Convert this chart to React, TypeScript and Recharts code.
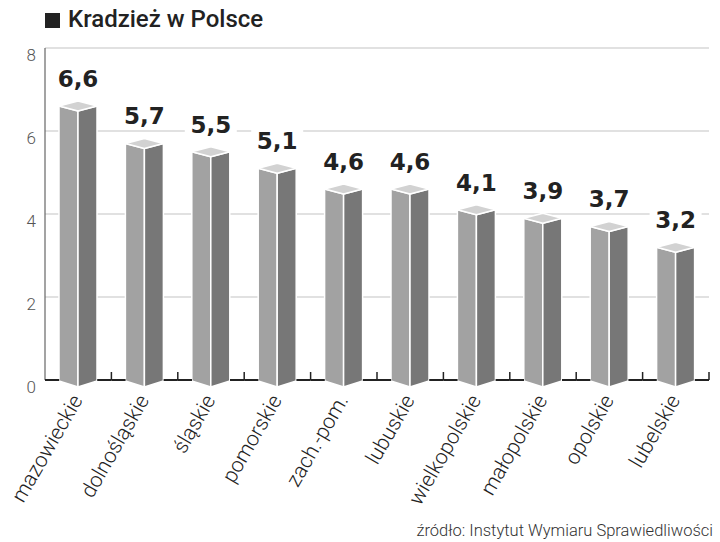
import { BarChart, Bar, XAxis, YAxis, CartesianGrid, LabelList } from "recharts";

const categories = [
  "mazowieckie",
  "dolnośląskie",
  "śląskie",
  "pomorskie",
  "zach.-pom.",
  "lubuskie",
  "wielkopolskie",
  "małopolskie",
  "opolskie",
  "lubelskie",
];
const values = [6.6, 5.7, 5.5, 5.1, 4.6, 4.6, 4.1, 3.9, 3.7, 3.2];
const yTicks = [0, 2, 4, 6, 8];

const data = categories.map((name, i) => ({ name, value: values[i] }));

const WIDTH = 720;
const HEIGHT = 542;
const LEFT = 45;
const RIGHT = 11;
const BAND = (WIDTH - LEFT - RIGHT) / categories.length;
const BAR = 38;
const DEPTH = 5;

const LIGHT = "Roboto, 'Noto Sans', sans-serif";

function Bar3D(props: any) {
  const { x, y, width, height } = props;
  if (width == null || height == null) return null;
  const cx = x + width / 2;
  const base = y + height;
  const r = x + width;
  return (
    <g stroke="#fff" strokeWidth={1.5} strokeLinejoin="round">
      <polygon
        points={`${x},${y} ${cx},${y + DEPTH} ${cx},${base + DEPTH + 2} ${x},${base + 1}`}
        fill="#a2a2a2"
      />
      <polygon
        points={`${cx},${y + DEPTH} ${r},${y} ${r},${base + 1} ${cx},${base + DEPTH + 2}`}
        fill="#777777"
      />
      <polygon
        points={`${x},${y} ${cx},${y - DEPTH} ${r},${y} ${cx},${y + DEPTH}`}
        fill="#d2d2d2"
      />
    </g>
  );
}

function ValueLabel(props: any) {
  const { x, y, width, value } = props;
  const cx = x + width / 2;
  const baseline = y - 19;
  return (
    <g>
      <rect x={cx - 26} y={baseline - 22} width={52} height={26} fill="#fff" />
      <text
        x={cx}
        y={baseline}
        textAnchor="middle"
        fontFamily="'DejaVu Sans', sans-serif"
        fontWeight={700}
        fontSize={23}
        fill="#222"
      >
        {String(value).replace(".", ",")}
      </text>
    </g>
  );
}

function CategoryTick(props: any) {
  const { x, y, payload } = props;
  const half = BAND / 2;
  const hb = BAR / 2;
  const ax = x + 5;
  const ay = y + 20;
  return (
    <g>
      <line x1={x - half} y1={y} x2={x - hb} y2={y} stroke="#222" strokeWidth={2} />
      <line x1={x + hb} y1={y} x2={x + half} y2={y} stroke="#222" strokeWidth={2} />
      <line x1={x + half} y1={y} x2={x + half} y2={y - 8} stroke="#222" strokeWidth={1.5} />
      <text
        x={ax}
        y={ay}
        textAnchor="end"
        transform={`rotate(-60, ${ax}, ${ay})`}
        fontFamily={LIGHT}
        fontWeight={300}
        fontSize={21}
        fill="#222"
      >
        {payload.value}
      </text>
    </g>
  );
}

function ValueTick(props: any) {
  const { x, y, payload } = props;
  return (
    <text
      x={x - 7}
      y={y + 7}
      dy="0.35em"
      textAnchor="end"
      fontFamily={LIGHT}
      fontWeight={300}
      fontSize={17}
      fill="#555"
    >
      {payload.value}
    </text>
  );
}

export default function App() {
  return (
    <div style={{ position: "relative", width: WIDTH, height: HEIGHT, background: "#fff" }}>
      <style>{`body{margin:0}`}</style>
      <div
        style={{
          position: "absolute",
          left: 45,
          top: 13,
          width: 15,
          height: 15,
          background: "#222",
        }}
      />
      <div
        style={{
          position: "absolute",
          left: 68,
          top: 4,
          fontFamily: "Roboto, sans-serif",
          fontWeight: 500,
          fontSize: 24,
          color: "#222",
          lineHeight: "30px",
        }}
      >
        Kradzież w Polsce
      </div>
      <BarChart
        width={WIDTH}
        height={HEIGHT}
        data={data}
        margin={{ top: 48, right: RIGHT, bottom: 12, left: 0 }}
      >
        <CartesianGrid vertical={false} stroke="#c4c4c4" strokeWidth={1.2} />
        <XAxis
          dataKey="name"
          axisLine={false}
          tickLine={false}
          tickSize={0}
          tickMargin={0}
          height={150}
          interval={0}
          tick={<CategoryTick />}
        />
        <YAxis
          domain={[0, 8]}
          ticks={yTicks}
          width={LEFT}
          axisLine={{ stroke: "#666", strokeWidth: 1.2 }}
          tickLine={false}
          tickSize={0}
          tick={<ValueTick />}
        />
        <Bar dataKey="value" barSize={BAR} shape={<Bar3D />} isAnimationActive={false}>
          <LabelList dataKey="value" content={<ValueLabel />} />
        </Bar>
      </BarChart>
      <div
        style={{
          position: "absolute",
          right: 7,
          top: 521,
          fontFamily: LIGHT,
          fontWeight: 300,
          fontSize: 16.5,
          color: "#333",
          whiteSpace: "nowrap",
        }}
      >
        źródło: Instytut Wymiaru Sprawiedliwości
      </div>
    </div>
  );
}
